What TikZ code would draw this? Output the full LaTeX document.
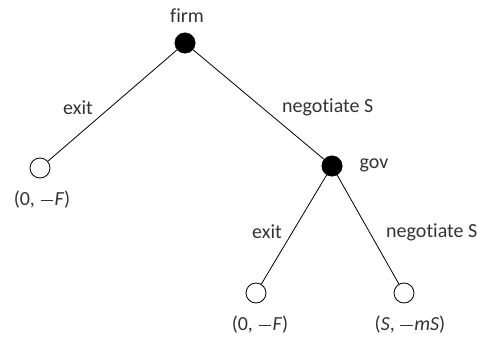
\documentclass[tikz,border=0pt]{standalone}
\usepackage{fontspec}
\setmainfont{Carlito}[Ligatures=NoCommon]
\newcommand\mminus{\kern0.05em\rule[0.27em]{0.62em}{0.05em}\kern0.08em}
\begin{document}
\begin{tikzpicture}[x=1pt,y=-1pt,
  dec/.style={circle,fill=black,draw=black,inner sep=0pt,minimum size=20.5pt},
  leaf/.style={circle,fill=white,draw=black,line width=0.8pt,inner sep=0pt,minimum size=20pt},
  lbl/.style={text=black!80,font=\fontsize{20}{24}\selectfont,inner sep=0pt},
  edge/.style={line width=0.8pt,black}]
\useasboundingbox (0,0) rectangle (477,340);
\node[dec] (firm) at (185,43) {};
\node[leaf] (l1) at (40,168) {};
\node[dec] (gov) at (332,166) {};
\node[leaf] (l2) at (256,293) {};
\node[leaf] (l3) at (404,293) {};
\draw[edge] (firm) -- (l1);
\draw[edge] (firm) -- (gov);
\draw[edge] (gov) -- (l2);
\draw[edge] (gov) -- (l3);
\node[lbl] (tfirm) at (187,16) {firm};
\node[lbl] (tgov) at (374,165) {gov};
\node[lbl,anchor=east] (e1) at (93,108) {exit};
\node[lbl,anchor=west] (n1) at (282,107) {negotiate S};
\node[lbl,anchor=east] (e2) at (282,232) {exit};
\node[lbl,anchor=west] (n2) at (386,232) {negotiate S};
\node[lbl] (p1) at (42,200) {(0, \mminus\textit{F})};
\node[lbl] (p2) at (260,325) {(0, \mminus\textit{F})};
\node[lbl] (p3) at (410,325) {(\textit{S}, \mminus\textit{mS})};
\end{tikzpicture}
\end{document}
